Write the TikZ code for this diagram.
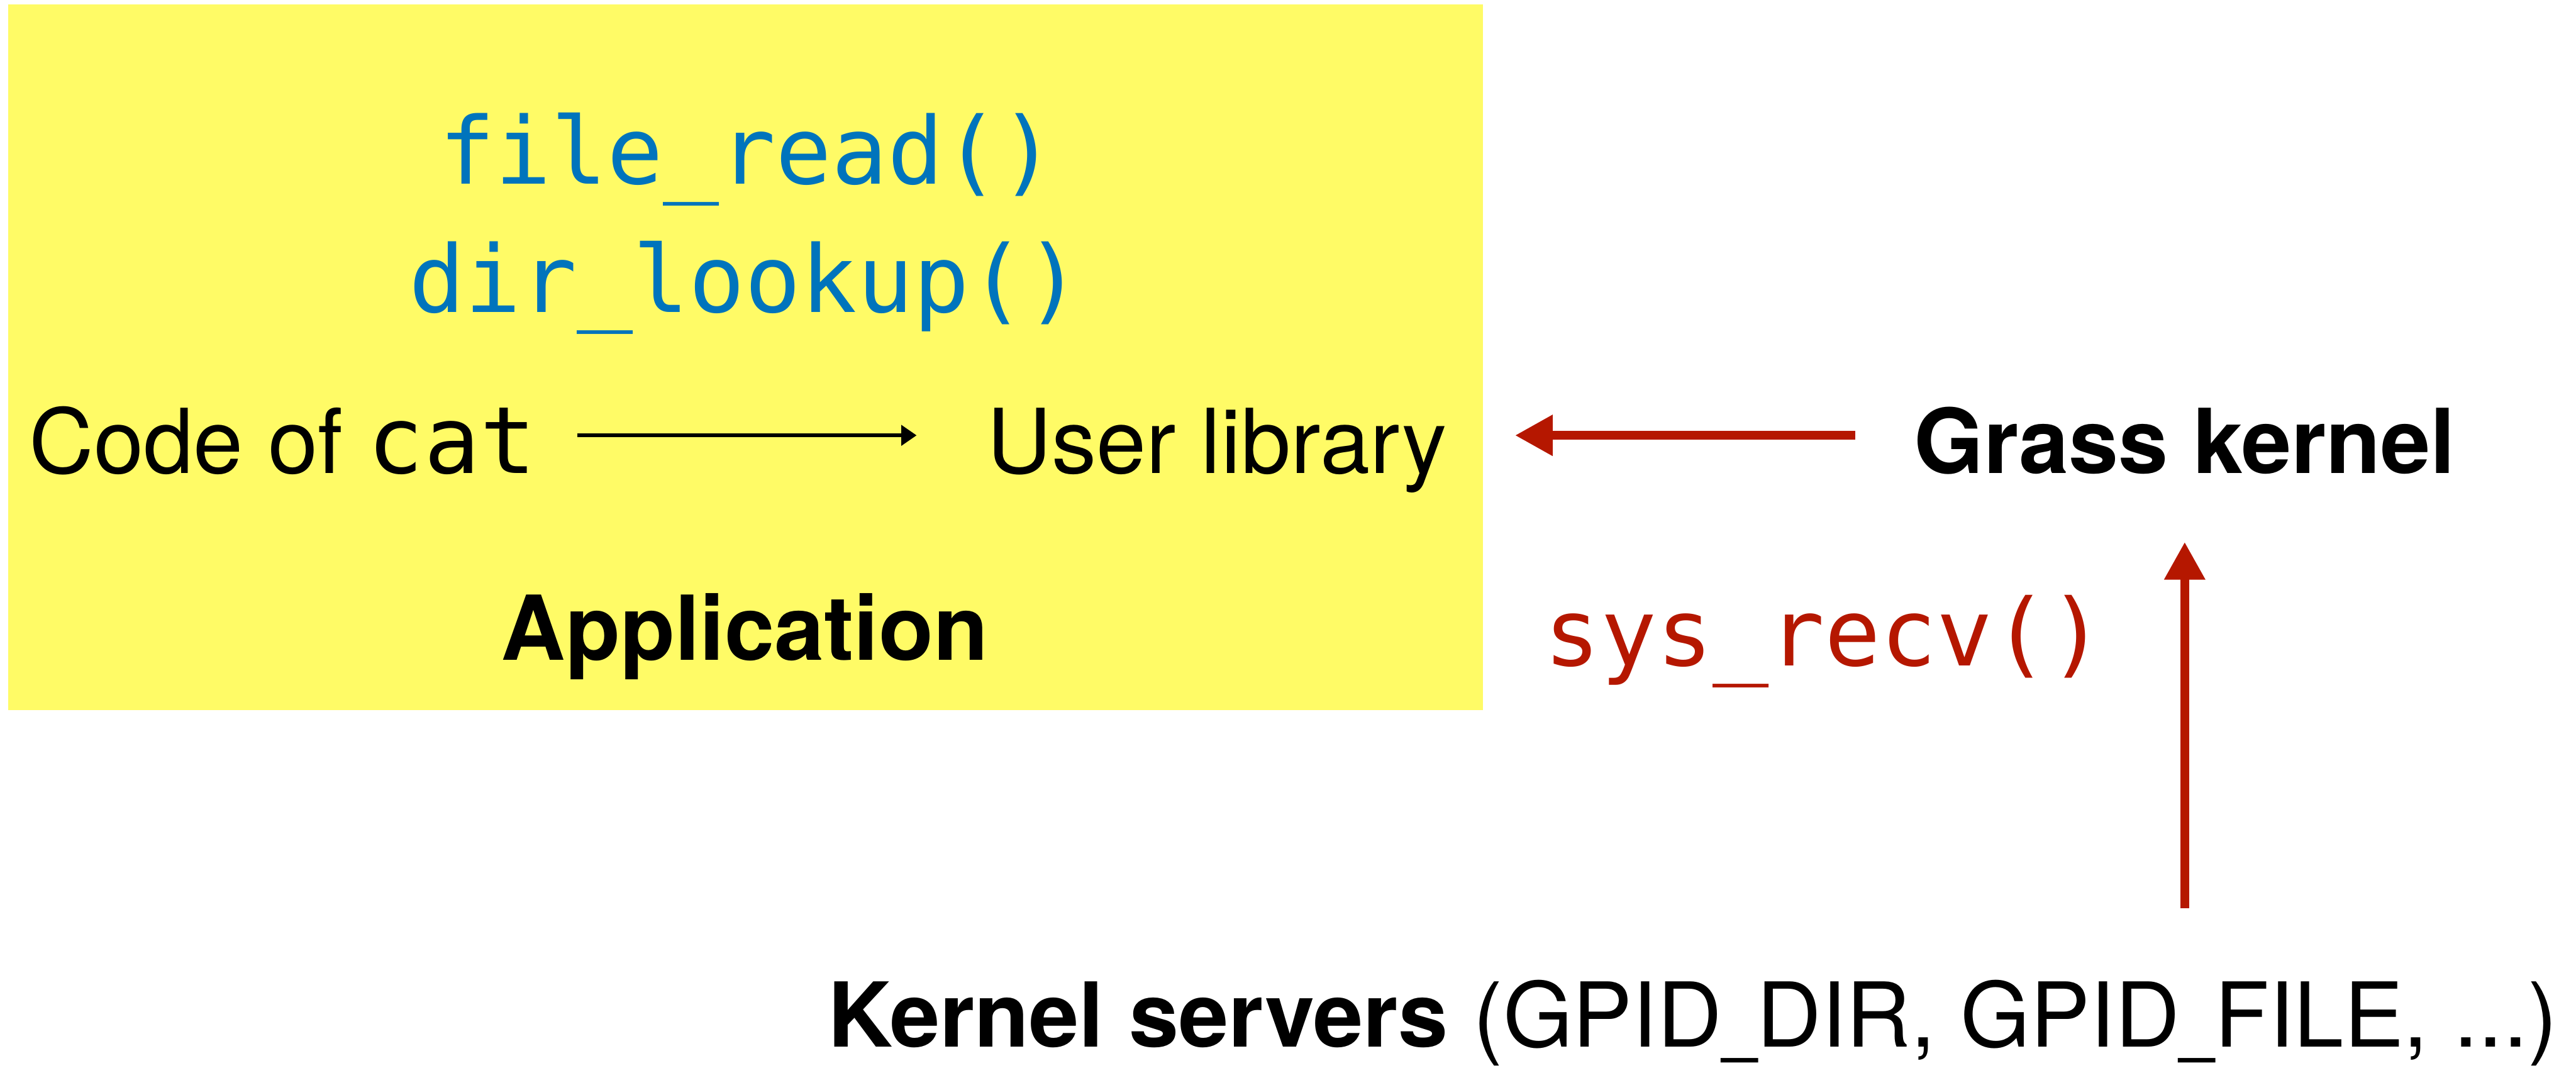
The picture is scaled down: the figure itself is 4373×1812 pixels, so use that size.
\documentclass[tikz,border=0pt]{standalone}
\usepackage{fontspec}
\usepackage{graphicx}
\setmainfont{TeX Gyre Heros}
\newfontfamily\monofont{DejaVu Sans Mono}
\usetikzlibrary{arrows.meta,calc}
\definecolor{appyellow}{RGB}{255,251,102}
\definecolor{codeblue}{RGB}{0,116,188}
\definecolor{kred}{RGB}{181,23,0}
\newcommand\narrowus{\scalebox{0.7}[1]{\_}}
\begin{document}
\begin{tikzpicture}[x=0.1pt,y=-0.1pt,
  every node/.style={inner sep=0pt,outer sep=0pt},
  lbl/.style={font=\fontsize{15.2}{18}\selectfont,anchor=base west},
  boldlbl/.style={font=\bfseries\fontsize{15.2}{18}\selectfont,anchor=base west},
  mono/.style={font=\monofont\fontsize{15.8}{19}\selectfont,anchor=base west},
  blackarrow/.style={line width=0.6pt,-{Triangle[length=2.6pt,width=3.4pt]}},
  redarrow/.style={kred,line width=1.5pt,-{Triangle[length=6.4pt,width=6.6pt]}}]
\useasboundingbox (0,0) rectangle (4373,1812);
\node[fill=appyellow,anchor=north west,minimum width=250.4pt,minimum height=119.7pt] (app) at (14,8) {};
\node[mono,text=codeblue,anchor=base] (fr) at (1269,312) {file\_read()};
\node[mono,text=codeblue,anchor=base] (dl) at (1265,530) {dir\_lookup()};
\node[lbl] (code) at (50,803) {Code of {\monofont\fontsize{15.8}{19}\selectfont cat}};
\node[lbl] (lib) at (1676,803) {User library};
\node[boldlbl,anchor=base] (appl) at (1264,1121) {Application};
\node[boldlbl] (gk) at (3249,803) {Grass kernel};
\node[mono,text=kred] (sr) at (2622,1130) {sys\_recv()};
\node[lbl] (ks) at (1405,1777) {\textbf{Kernel servers} (GPID\narrowus DIR, GPID\narrowus FILE, ...)};
\draw[blackarrow] ([shift={(7pt,6.4pt)}]code.base east) -- ([shift={(-12pt,6.4pt)}]lib.base west);
\coordinate (r1) at ([shift={(-10pt,6.4pt)}]gk.base west);
\draw[redarrow] (r1) -- ($(app.east |- r1)+(5.4pt,0)$);
\coordinate (v0) at ($(ks.base -| gk.base)+(0,23.5pt)$);
\coordinate (v1) at ($(gk.base)+(0,-11.7pt)$);
\draw[redarrow] (v0) -- (v1);
\end{tikzpicture}
\end{document}
